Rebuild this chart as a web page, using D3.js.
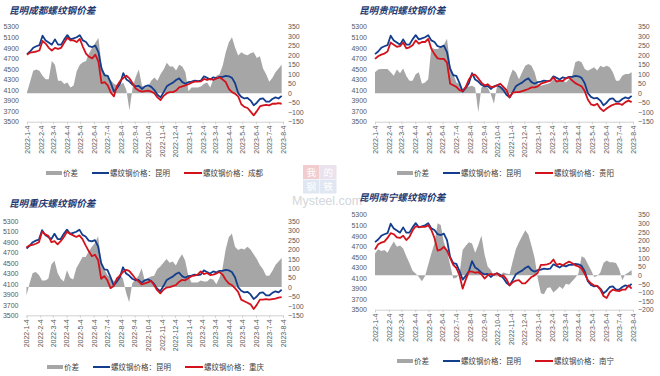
<!DOCTYPE html>
<html>
<head>
<meta charset="utf-8">
<script src="https://cdn.jsdelivr.net/npm/d3@7"></script>
<style>
  body { margin: 0; background: #fff; }
  svg { display: block; }
</style>
</head>
<body>
<script>
// monthly tick labels on the x axis
const tickLabels = ["2022-1-4", "2022-2-4", "2022-3-4", "2022-4-4", "2022-5-4", "2022-6-4",
  "2022-7-4", "2022-8-4", "2022-9-4", "2022-10-4", "2022-11-4", "2022-12-4",
  "2023-1-4", "2023-2-4", "2023-3-4", "2023-4-4", "2023-5-4", "2023-6-4", "2023-7-4", "2023-8-4"];
const priceTicks = [3500, 3700, 3900, 4100, 4300, 4500, 4700, 4900, 5100, 5300];
const spreadTicks = [-150, -100, -50, 0, 50, 100, 150, 200, 250, 300, 350];
const spreadTicksNanning = [-200, -150, -100, -50, 0, 50, 100, 150, 200, 250, 300, 350];

// weekly readings, first week 2022-1-4
const kunming = [4780, 4830, 4900, 4930, 4950, 5130, 5040, 5000, 4960, 5060,
  4960, 4960, 5060, 5140, 5060, 5080, 5100, 5140, 5040, 5010,
  4930, 4915, 4940, 4820, 4500, 4380, 4370, 4230, 4070, 4140,
  4230, 4420, 4300, 4260, 4200, 4170, 4180, 4120, 4170, 4190,
  4160, 4100, 4010, 3960, 4060, 4170, 4210, 4240, 4290, 4320,
  4250, 4220, 4250, 4260, 4280, 4270, 4280, 4360, 4330, 4300,
  4340, 4320, 4350, 4350, 4370, 4360, 4330, 4230, 4040, 3970,
  3940, 3950, 3900, 3810, 3860, 3930, 3940, 3880, 3880, 3930,
  3960, 3940, 3990];

const chengdu = [4770, 4810, 4820, 4830, 4850, 5030, 4980, 4900, 4850, 4900,
  4880, 4900, 5000, 5090, 5040, 5040, 5010, 5070, 4920, 4790,
  4730, 4700, 4770, 4640, 4230, 4250, 4190, 4050, 3980, 4180,
  4270, 4330, 4370, 4320, 4230, 4130, 4090, 4070, 4080, 4090,
  4070, 4040, 3960, 3910, 3990, 4040, 4060, 4060, 4090, 4150,
  4170, 4190, 4210, 4240, 4260, 4260, 4265, 4310, 4290, 4310,
  4290, 4320, 4340, 4300, 4250, 4120, 4060, 4030, 3980, 3830,
  3780, 3760, 3690, 3620, 3700, 3790, 3810, 3820, 3810, 3840,
  3840, 3850, 3840];
const chengduSpread = [5, 60, 118, 125, 118, 92, 74, 74, 170, 150,
  65, 65, 48, 56, 30, 40, 115, 150, 163, 170,
  210, 240, 265, 290, 150, 100, 85, 68, 50, 40,
  45, 55, 15, -90, 30, 85, 125, 40, 30, 35,
  65, 83, 65, 100, 125, 160, 140, 140, 120, 150,
  140, 110, 10, 30, 30, 30, 35, 50, 56, 30,
  74, 92, 100, 145, 215, 268, 295, 240, 198, 215,
  205, 200, 210, 215, 185, 195, 130, 100, 60, 80,
  110, 130, 150];

const guiyang = [4690, 4740, 4770, 4790, 4830, 5000, 4960, 4920, 4930, 5000,
  4890, 4910, 4950, 5040, 4980, 5010, 5010, 5070, 4880, 4780,
  4700, 4690, 4690, 4620, 4220, 4190, 4160, 4100, 4080, 4160,
  4300, 4390, 4390, 4320, 4240, 4190, 4210, 4160, 4160, 4190,
  4220, 4160, 4100, 3960, 4050, 4060, 4060, 4080, 4100, 4120,
  4150, 4150, 4170, 4220, 4240, 4260, 4280, 4340, 4260, 4280,
  4270, 4320, 4340, 4280, 4230, 4200, 4170, 4080, 3920, 3830,
  3810, 3840, 3750, 3700, 3750, 3790, 3820, 3840, 3840, 3820,
  3870, 3900, 3870];
const guiyangSpread = [110, 125, 127, 127, 127, 110, 92, 125, 105, 130,
  90, 65, 65, 100, 110, 50, 56, 74, 240, 233,
  233, 242, 255, 286, 150, 100, 56, 48, 21, 30,
  35, 39, 30, -100, 30, 39, 30, -5, -55, 39,
  30, 39, 21, 83, 125, 110, 74, 110, 145, 154,
  145, 110, 48, 39, 45, 48, 55, 74, 65, 65,
  65, 56, 74, 92, 163, 171, 163, 127, 118, 127,
  136, 120, 145, 136, 145, 136, 110, 65, 65, 92,
  101, 101, 110];

const chongqing = [4800, 4840, 4850, 4870, 4900, 5100, 5050, 5020, 4900, 4920,
  4860, 4920, 5000, 5100, 5060, 5030, 5000, 5030, 4960, 4840,
  4730, 4630, 4660, 4560, 4200, 4250, 4170, 4020, 4060, 4200,
  4260, 4330, 4370, 4350, 4280, 4200, 4150, 4090, 4110, 4130,
  4160, 4080, 3980, 3920, 3990, 4030, 4040, 4060, 4080, 4140,
  4180, 4170, 4210, 4250, 4260, 4280, 4340, 4290, 4310, 4270,
  4280, 4300, 4330, 4280, 4180, 4110, 4080, 4020, 3950, 3800,
  3770, 3740, 3710, 3620, 3700, 3800, 3800, 3810, 3800, 3810,
  3820, 3840, 3850];
const chongqingSpread = [-45, 20, 75, 80, 65, 35, 35, 45, 120, 140,
  75, 45, 30, 90, 50, 40, 100, 130, 160, 160,
  190, 215, 235, 270, 140, 95, 65, 50, 32, 39,
  70, 45, -30, -80, 20, 40, 60, 100, 35, 48,
  56, 60, 95, 110, 130, 150, 130, 136, 115, 150,
  175, 140, 60, 25, 25, 25, 35, 30, 30, 45,
  40, 15, 50, 100, 200, 265, 285, 215, 198, 205,
  200, 215, 200, 175, 150, 118, 95, 60, 60, 85,
  118, 136, 155];

const nanning = [4640, 4740, 4770, 4790, 4860, 4950, 4930, 4870, 4860, 4900,
  4820, 4880, 5000, 5080, 5070, 5070, 5070, 5100, 5010, 4860,
  4620, 4640, 4690, 4620, 4480, 4350, 4290, 4150, 3900, 4070,
  4220, 4220, 4200, 4210, 4170, 4090, 4150, 4180, 4160, 4190,
  4130, 4150, 4080, 3960, 4020, 4050, 4060, 4000, 4000, 4060,
  4120, 4150, 4200, 4350, 4350, 4360, 4380, 4450, 4350, 4370,
  4340, 4380, 4410, 4380, 4340, 4320, 4280, 4180, 4060, 4000,
  3960, 3950, 3880, 3760, 3720, 3830, 3880, 3860, 3850, 3880,
  3880, 3960, 3900];
const nanningSpread = [125, 150, 140, 145, 130, 165, 195, 165, 172, 155,
  110, 70, 25, 10, -10, -35, -5, 60, 125, 185,
  300, 290, 190, 140, 60, -20, -15, 10, 145, 170,
  190, 183, 130, 175, 230, 120, 50, 30, -5, -8,
  0, 15, 10, 5, 80, 150, 190, 225, 260, 235,
  170, 100, -20, -105, -110, -75, -70, -100, -85, -65,
  -80, -50, -55, -35, -15, 10, 110, 100, 65, 30,
  -10, -5, 15, 70, 85, 75, 75, 70, 35, -30,
  5, 15, 30];

const panels = [
  { title: "昆明成都螺纹钢价差", city: "成都", prices: chengdu, spread: chengduSpread, rTicks: spreadTicks },
  { title: "昆明贵阳螺纹钢价差", city: "贵阳", prices: guiyang, spread: guiyangSpread, rTicks: spreadTicks },
  { title: "昆明重庆螺纹钢价差", city: "重庆", prices: chongqing, spread: chongqingSpread, rTicks: spreadTicks },
  { title: "昆明南宁螺纹钢价差", city: "南宁", prices: nanning, spread: nanningSpread, rTicks: spreadTicksNanning }
];

// where each panel sits on the page
const layout = [
  { x0: 27, x1: 283, yT: 26.7, yB: 121.7, tx: 9, ty: 11, ly: 173, lx: 46 },
  { x0: 375, x1: 633, yT: 26.7, yB: 121.7, tx: 359, ty: 11, ly: 173, lx: 397 },
  { x0: 26.5, x1: 283, yT: 221.3, yB: 315.3, tx: 9, ty: 204, ly: 367, lx: 47 },
  { x0: 375, x1: 633, yT: 214.7, yB: 309.7, tx: 359, ty: 198, ly: 361, lx: 397 }
];

let width = 660, height = 376;
let blue = "#133D8D", red = "#D3121B", gray = "#A6A6A6";
let numFont = "'Liberation Sans', Arial, sans-serif";
let cjkFont = "'Noto Sans CJK SC', 'Noto Sans', sans-serif";

let parse = d3.timeParse("%Y-%m-%d");
let tickDates = tickLabels.map(s => {
  let p = s.split("-");
  return parse(`${p[0]}-${p[1].padStart(2, "0")}-${p[2].padStart(2, "0")}`);
});
let start = tickDates[0];
let dates = kunming.map((_, i) => d3.timeDay.offset(start, 7 * i));

let svg = d3.select("body").append("svg")
  .attr("width", width)
  .attr("height", height);

// faint Mysteel watermark in the middle
let wm = svg.append("g").attr("opacity", 0.5);
[["我", 303, 165, "#E49CA3"], ["的", 320, 165, "#D7C6DA"], ["钢", 303, 179.5, "#C3D1E6"], ["铁", 320, 179.5, "#C3D1E6"]]
  .forEach(d => {
    wm.append("rect").attr("x", d[1]).attr("y", d[2]).attr("width", 16.5).attr("height", 14).attr("fill", d[3]);
    wm.append("text").attr("x", d[1] + 8.25).attr("y", d[2] + 10.5).attr("text-anchor", "middle")
      .attr("font-family", cjkFont).attr("font-size", 9.5).attr("fill", "#fff").text(d[0]);
  });
wm.append("text").attr("x", 292).attr("y", 205).attr("font-family", numFont).attr("font-size", 12.5)
  .attr("fill", "#A9AEB6").text("Mysteel.com");

panels.forEach((p, k) => {
  let L = layout[k];
  let g = svg.append("g");

  let x = d3.scaleTime().domain([tickDates[0], tickDates[tickDates.length - 1]]).range([L.x0, L.x1]);
  let yL = d3.scaleLinear().domain([priceTicks[0], priceTicks[priceTicks.length - 1]]).range([L.yB, L.yT]);
  let yR = d3.scaleLinear().domain([p.rTicks[0], p.rTicks[p.rTicks.length - 1]]).range([L.yB, L.yT]);

  g.append("text")
    .attr("x", L.tx).attr("y", L.ty).attr("dy", "0.35em")
    .attr("font-family", cjkFont).attr("font-size", 9.6).attr("font-weight", "bold")
    .attr("font-style", "italic").attr("fill", "#1F3B72")
    .text(p.title);

  // spread area on right axis
  let area = d3.area()
    .x((d, i) => x(dates[i]))
    .y0(yR(0))
    .y1(d => yR(d));
  g.append("path").datum(p.spread)
    .attr("fill", gray)
    .attr("d", area);

  let line = d3.line()
    .x((d, i) => x(dates[i]))
    .y(d => yL(d));
  g.append("path").datum(kunming)
    .attr("fill", "none").attr("stroke", blue).attr("stroke-width", 1.8)
    .attr("stroke-linejoin", "round")
    .attr("d", line);
  g.append("path").datum(p.prices)
    .attr("fill", "none").attr("stroke", red).attr("stroke-width", 1.8)
    .attr("stroke-linejoin", "round")
    .attr("d", line);

  let left = g.append("g")
    .attr("transform", `translate(${L.x0 - 8},0)`)
    .call(d3.axisLeft(yL).tickValues(priceTicks).tickSize(0).tickPadding(0).tickFormat(d3.format("d")));
  let right = g.append("g")
    .attr("transform", `translate(${L.x1 + 5},0)`)
    .call(d3.axisRight(yR).tickValues(p.rTicks).tickSize(0).tickPadding(0).tickFormat(d3.format("d")));
  [left, right].forEach(a => {
    a.select(".domain").remove();
    a.selectAll("text").attr("font-family", numFont).attr("font-size", 7).attr("fill", "#595959");
  });

  let bottom = g.append("g")
    .attr("transform", `translate(0,${L.yB})`)
    .call(d3.axisBottom(x).tickValues(tickDates).tickSize(2.5).tickFormat((d, i) => tickLabels[i]));
  bottom.select(".domain").attr("stroke", "#D0D0D0");
  bottom.selectAll(".tick line").attr("stroke", "#D0D0D0");
  bottom.selectAll("text")
    .attr("transform", "rotate(-90)")
    .attr("text-anchor", "end")
    .attr("x", -4).attr("y", 0).attr("dy", "0.35em")
    .attr("font-family", numFont).attr("font-size", 7).attr("fill", "#595959");

  // legend
  let lg = g.append("g").attr("transform", `translate(${L.lx},${L.ly})`);
  lg.append("rect").attr("x", 0).attr("y", -2).attr("width", 16).attr("height", 4).attr("fill", gray);
  lg.append("line").attr("x1", 46).attr("x2", 63).attr("y1", 0).attr("y2", 0).attr("stroke", blue).attr("stroke-width", 2);
  lg.append("line").attr("x1", 138).attr("x2", 156).attr("y1", 0).attr("y2", 0).attr("stroke", red).attr("stroke-width", 2);
  [[17, "价差"], [64, "螺纹钢价格：昆明"], [157, "螺纹钢价格：" + p.city]].forEach(t => {
    lg.append("text").attr("x", t[0]).attr("y", 0).attr("dy", "0.35em")
      .attr("font-family", cjkFont).attr("font-size", 7.5).attr("fill", "#404040")
      .text(t[1]);
  });
});
</script>
</body>
</html>
